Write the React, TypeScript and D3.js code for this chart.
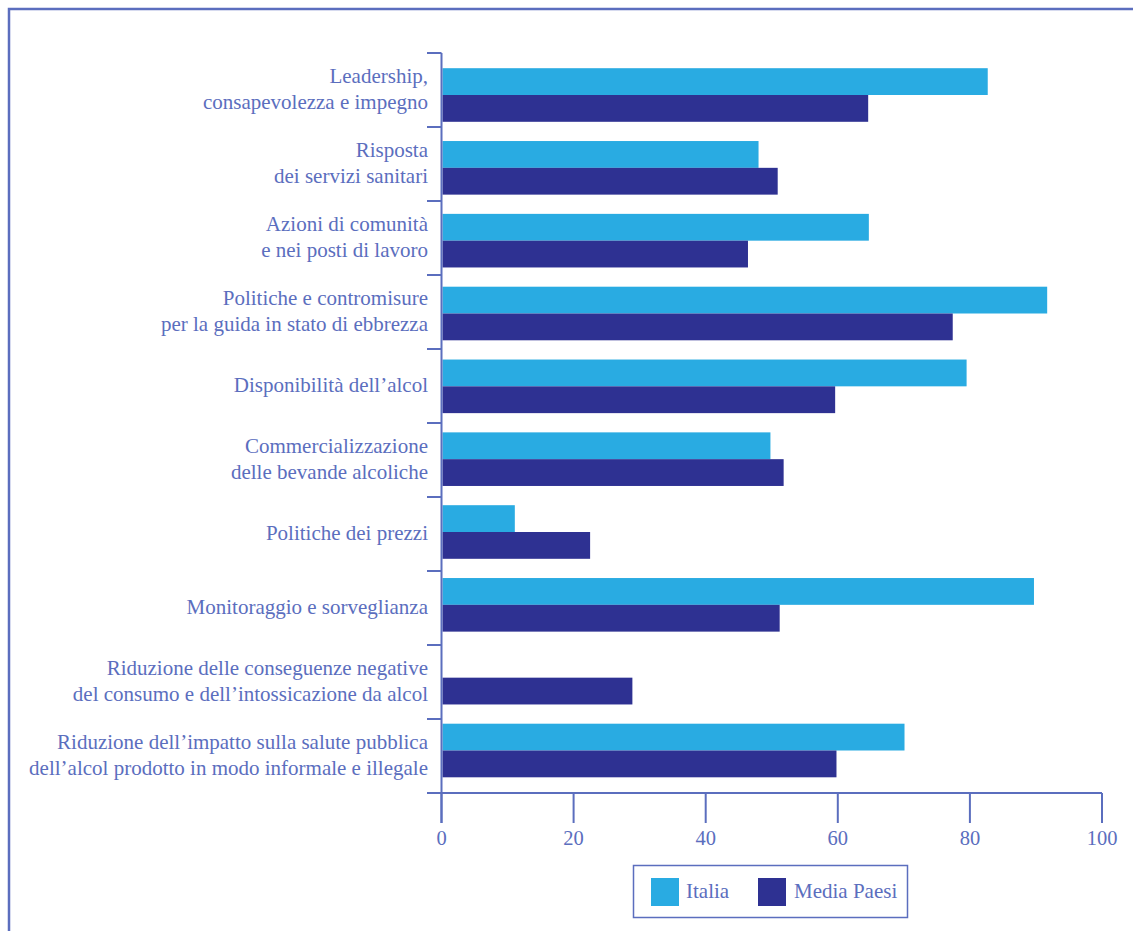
import React from "react";
import * as d3 from "d3";

const categories: string[][] = [
  ["Leadership,", "consapevolezza e impegno"],
  ["Risposta", "dei servizi sanitari"],
  ["Azioni di comunità", "e nei posti di lavoro"],
  ["Politiche e contromisure", "per la guida in stato di ebbrezza"],
  ["Disponibilità dell’alcol"],
  ["Commercializzazione", "delle bevande alcoliche"],
  ["Politiche dei prezzi"],
  ["Monitoraggio e sorveglianza"],
  ["Riduzione delle conseguenze negative", "del consumo e dell’intossicazione da alcol"],
  ["Riduzione dell’impatto sulla salute pubblica", "dell’alcol prodotto in modo informale e illegale"],
];
const italia: (number | null)[] = [82.7, 48.0, 64.7, 91.7, 79.5, 49.8, 11.1, 89.7, null, 70.1];
const mediaPaesi: number[] = [64.6, 50.9, 46.4, 77.4, 59.6, 51.8, 22.5, 51.2, 28.9, 59.8];
const xTicks: number[] = [0, 20, 40, 60, 80, 100];
const seriesNames = ["Italia", "Media Paesi"];

const C_IT = "#29abe2";
const C_MP = "#2e3192";
const C_AX = "#5b6ebe";
const FONT = '"Liberation Serif"';

export default function App() {
  const ids = categories.map((_, i) => String(i));
  const x = d3.scaleLinear().domain([0, 100]).range([441.5, 1102]);
  const band = d3.scaleBand<string>().domain(ids).range([53, 793]);
  const pair = d3.scalePoint<string>().domain(ids).range([95, 750.5]);
  const barH = 26.8;
  const lineH = 25.5;
  const fs = 21;

  return (
    <svg width={1133} height={931} style={{ position: "absolute", left: 0, top: 0, fontFamily: FONT }}>
      <rect x={0} y={0} width={1133} height={931} fill="#fff" />
      {/* frame */}
      <path d="M9,940 L9,9 L1140,9" fill="none" stroke={C_AX} strokeWidth={2.5} />

      {/* bars */}
      {ids.map((id, i) => {
        const cy = pair(id)!;
        const it = italia[i];
        return (
          <g key={id}>
            {it !== null && (
              <rect x={x(0) + 1} y={cy - barH} width={x(it) - x(0) - 1} height={barH} fill={C_IT} />
            )}
            <rect x={x(0) + 1} y={cy} width={x(mediaPaesi[i]) - x(0) - 1} height={barH} fill={C_MP} />
          </g>
        );
      })}

      {/* y axis */}
      <line x1={x(0)} x2={x(0)} y1={53} y2={823} stroke={C_AX} strokeWidth={2} />
      {[...ids.map((id) => band(id)!), 793].map((ty, i) => (
        <line key={i} x1={427} x2={x(0)} y1={ty} y2={ty} stroke={C_AX} strokeWidth={2} />
      ))}
      {ids.map((id, i) => {
        const lines = categories[i];
        const cy = band(id)! + band.bandwidth() / 2 - 1;
        const y0 = cy - ((lines.length - 1) * lineH) / 2;
        return (
          <text key={id} textAnchor="end" fontSize={fs} fill={C_AX} style={{ fontFamily: FONT }}>
            {lines.map((l, j) => (
              <tspan key={j} x={428} y={y0 + j * lineH} dy="0.33em">
                {l}
              </tspan>
            ))}
          </text>
        );
      })}

      {/* x axis */}
      <line x1={427} x2={x(100)} y1={793} y2={793} stroke={C_AX} strokeWidth={2} />
      {xTicks.map((t) => (
        <g key={t}>
          <line x1={x(t)} x2={x(t)} y1={793} y2={823} stroke={C_AX} strokeWidth={2} />
          <text x={x(t)} y={845} textAnchor="middle" fontSize={20.5} fill={C_AX} style={{ fontFamily: FONT }}>
            {t}
          </text>
        </g>
      ))}

      {/* legend */}
      <rect x={633.5} y={865.5} width={274} height={52} fill="none" stroke={C_AX} strokeWidth={1.5} />
      <rect x={651} y={878} width={28} height={28} fill={C_IT} />
      <text x={686} y={898} fontSize={fs} fill={C_AX} style={{ fontFamily: FONT }}>{seriesNames[0]}</text>
      <rect x={758} y={878} width={28} height={28} fill={C_MP} />
      <text x={794} y={898} fontSize={fs} fill={C_AX} style={{ fontFamily: FONT }}>{seriesNames[1]}</text>
    </svg>
  );
}
